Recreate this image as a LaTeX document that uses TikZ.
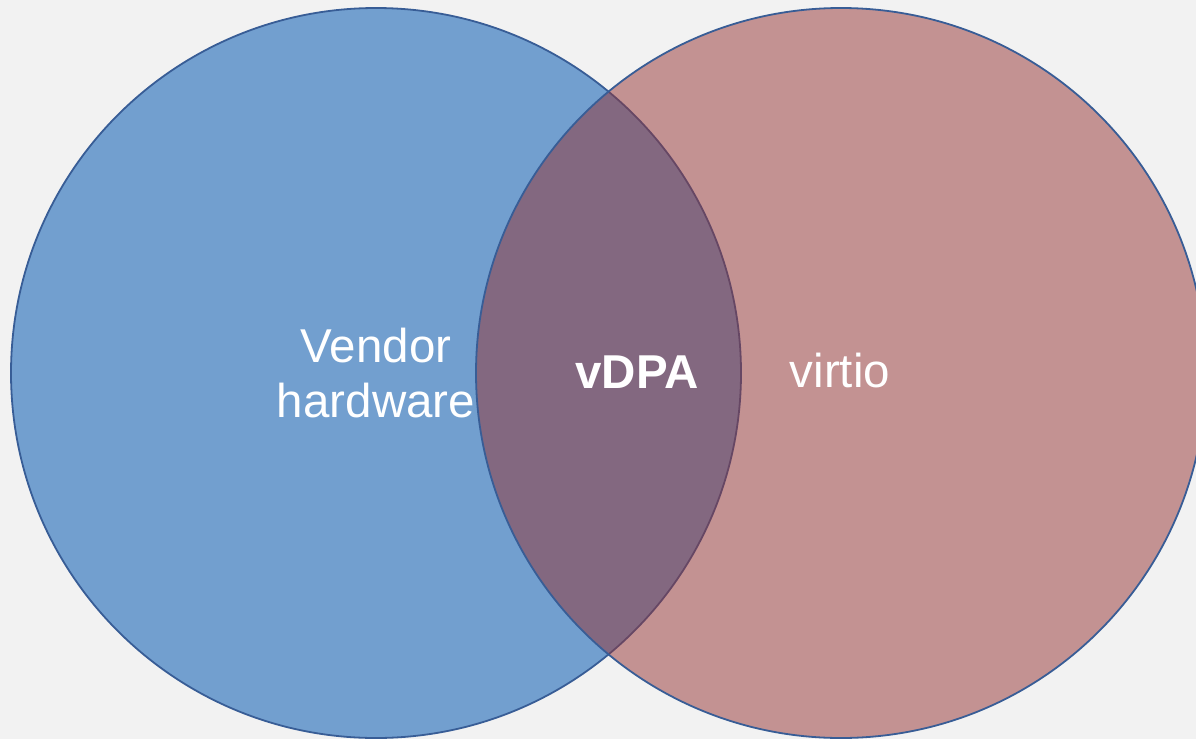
\documentclass[tikz,border=0pt]{standalone}
\usepackage{fontspec}
\setmainfont{Liberation Sans}
\definecolor{pagebg}{RGB}{242,242,242}
\definecolor{setblue}{RGB}{114,159,207}
\definecolor{setred}{RGB}{149,51,51}
\definecolor{rim}{RGB}{56,93,150}
\tikzset{
  setdisc/.style={circle, draw=rim, line width=1.8pt, inner sep=0pt, outer sep=0pt, minimum size=730pt},
  setlabel/.style={text=white, inner sep=0pt, anchor=base, align=center,
    font=\fontsize{47.5}{54.6}\selectfont}
}
\begin{document}
\begin{tikzpicture}[x=1pt,y=-1pt]
  \useasboundingbox (0,0) rectangle (1196,739);
  \fill[pagebg] (0,0) rectangle (1196,739);
  \clip (0,0) rectangle (1196,739);
  % the two overlapping sets
  \node[setdisc, fill=setblue] (hw) at (376,373) {};
  \node[setdisc, fill=setred, fill opacity=0.5] (vio) at (841,373) {};
  % labels (base anchor sits on the last line's baseline)
  \node[setlabel] (hwtext) at (376,417) {Vendor\\hardware};
  \node[setlabel, font=\fontsize{47.5}{54}\selectfont\bfseries] (vdpa) at (637,388) {vDPA};
  \node[setlabel] (viotext) at (840,387) {virtio};
\end{tikzpicture}
\end{document}
